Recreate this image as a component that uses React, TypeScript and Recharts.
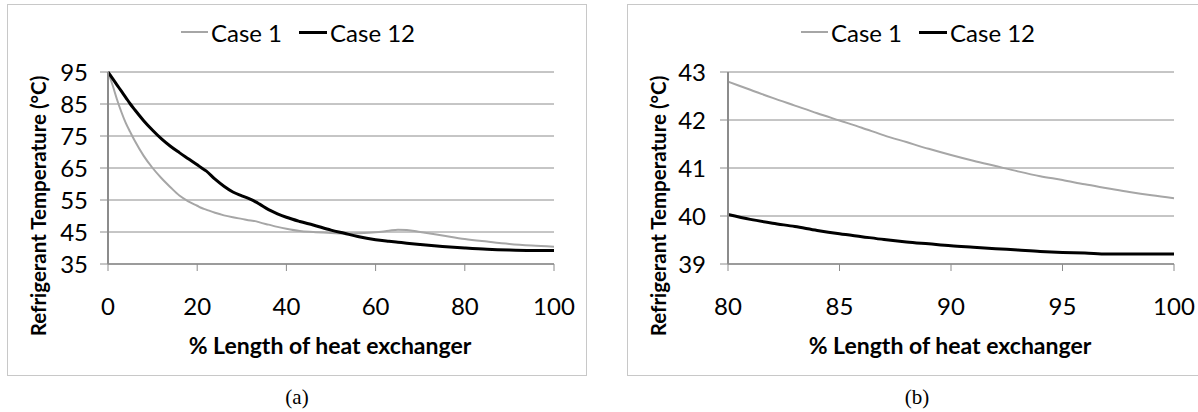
import { LineChart, Line, XAxis, YAxis, CartesianGrid, Label } from "recharts"

// (a) full length of the heat exchanger
const lengthA = [0, 1, 2, 3, 4, 5, 6, 8, 10, 12, 14, 16, 18, 20, 21, 22, 24, 26, 28, 30, 32, 33, 34, 36, 38, 40, 43, 46, 50, 53, 56, 60, 63, 65, 67, 70, 75, 80, 85, 90, 95, 100]
const case1A = [95, 91, 86.5, 82.5, 79, 76.2, 73.5, 68.8, 65, 61.8, 59, 56.4, 54.6, 53.2, 52.5, 52, 51, 50.2, 49.6, 49.1, 48.6, 48.4, 48, 47.3, 46.6, 46, 45.3, 45, 44.7, 44.5, 44.6, 44.9, 45.4, 45.7, 45.6, 45, 43.9, 42.8, 42, 41.27, 40.75, 40.37]
const case12A = [95, 93, 91, 89, 87, 85, 83.2, 79.8, 76.8, 74.1, 71.8, 69.8, 67.9, 66, 65, 64.1, 61.5, 59.3, 57.5, 56.3, 55.2, 54.5, 53.7, 52, 50.7, 49.6, 48.3, 47.2, 45.6, 44.6, 43.6, 42.6, 42.1, 41.8, 41.5, 41.1, 40.5, 40.03, 39.63, 39.38, 39.24, 39.21]

// (b) last 20 % of the heat exchanger
const lengthB = [80, 81, 82, 83, 84, 85, 86, 87, 88, 89, 90, 91, 92, 93, 94, 95, 96, 97, 98, 99, 100]
const case1B = [42.8, 42.63, 42.46, 42.3, 42.14, 41.99, 41.84, 41.68, 41.54, 41.4, 41.27, 41.15, 41.04, 40.93, 40.83, 40.75, 40.66, 40.58, 40.5, 40.43, 40.37]
const case12B = [40.03, 39.93, 39.85, 39.78, 39.7, 39.63, 39.57, 39.51, 39.46, 39.42, 39.38, 39.35, 39.32, 39.29, 39.26, 39.24, 39.23, 39.21, 39.21, 39.21, 39.21]

const xTicksA = [0, 20, 40, 60, 80, 100]
const yTicksA = [35, 45, 55, 65, 75, 85, 95]
const xTicksB = [80, 85, 90, 95, 100]
const yTicksB = [39, 40, 41, 42, 43]

const FONT = "Lato, Carlito, Calibri, sans-serif"
const GRID = "#8c8c8c"
const W = 580
const H = 372

interface PanelProps {
  x: number[]
  c1: number[]
  c12: number[]
  xTicks: number[]
  yTicks: number[]
  left: number
  caption: string
  yTickMargin: number
}

function Panel({ x, c1, c12, xTicks, yTicks, left, caption, yTickMargin }: PanelProps) {
  const data = x.map((v, i) => ({ x: v, case1: c1[i], case12: c12[i] }))
  return (
    <>
      <div
        style={{
          position: "absolute",
          left,
          top: 4,
          width: W,
          height: H,
          border: "1px solid #c8c8c8",
          boxSizing: "border-box",
          background: "#fff",
        }}
      >
        <div
          style={{
            position: "absolute",
            left: 0,
            top: 13,
            width: W,
            height: 28,
            display: "flex",
            justifyContent: "center",
            alignItems: "center",
            fontFamily: FONT,
            fontSize: 24,
            color: "#000",
          }}
        >
          <span style={{ display: "inline-block", width: 27, height: 2, background: "#a6a6a6", marginRight: 3 }} />
          <span>Case 1</span>
          <span style={{ display: "inline-block", width: 28, height: 3, background: "#000", marginLeft: 17, marginRight: 3 }} />
          <span>Case 12</span>
        </div>
        <LineChart
          width={W}
          height={H}
          data={data}
          margin={{ top: 68, right: 33, left: 0, bottom: 0 }}
          style={{ position: "absolute", left: -1, top: -1 }}
        >
          <CartesianGrid vertical={false} stroke={GRID} strokeWidth={1} />
          <XAxis
            dataKey="x"
            type="number"
            domain={[xTicks[0], xTicks[xTicks.length - 1]]}
            ticks={xTicks}
            interval={0}
            height={112}
            tickSize={7}
            tickMargin={27}
            axisLine={{ stroke: GRID, strokeWidth: 1.5 }}
            tickLine={{ stroke: GRID }}
            tick={{ fill: "#000", fontSize: 24, fontFamily: FONT }}
          >
            <Label
              content={() => (
                <text x={323} y={341} textAnchor="middle" dominantBaseline="central" fontFamily={FONT} fontWeight="bold" fontSize={23} fill="#000">
                  % Length of heat exchanger
                </text>
              )}
            />
          </XAxis>
          <YAxis
            type="number"
            domain={[yTicks[0], yTicks[yTicks.length - 1]]}
            ticks={yTicks}
            interval={0}
            width={101}
            tickSize={8}
            tickMargin={yTickMargin}
            axisLine={{ stroke: GRID, strokeWidth: 2 }}
            tickLine={{ stroke: GRID }}
            tick={{ fill: "#000", fontSize: 24, fontFamily: FONT }}
          >
            <Label
              content={() => (
                <text
                  x={31}
                  y={202}
                  transform="rotate(-90 31 202)"
                  textAnchor="middle"
                  dominantBaseline="central"
                  fontFamily={FONT}
                  fontWeight="bold"
                  fontSize={20.5}
                  fill="#000"
                >
                  Refrigerant Temperature (°C)
                </text>
              )}
            />
          </YAxis>
          <Line type="monotone" dataKey="case1" name="Case 1" stroke="#a6a6a6" strokeWidth={2} dot={false} isAnimationActive={false} />
          <Line type="monotone" dataKey="case12" name="Case 12" stroke="#000" strokeWidth={3} dot={false} isAnimationActive={false} />
        </LineChart>
      </div>
      <div
        style={{
          position: "absolute",
          left,
          top: 385,
          width: W,
          textAlign: "center",
          fontFamily: "'Liberation Serif', 'Times New Roman', serif",
          fontSize: 21,
          lineHeight: "24px",
          color: "#000",
        }}
      >
        {caption}
      </div>
    </>
  )
}

export default function App() {
  return (
    <div style={{ position: "absolute", left: 0, top: 0, width: 1198, height: 412, background: "#fff", overflow: "hidden" }}>
      <Panel x={lengthA} c1={case1A} c12={case12A} xTicks={xTicksA} yTicks={yTicksA} left={7} caption="(a)" yTickMargin={12} />
      <Panel x={lengthB} c1={case1B} c12={case12B} xTicks={xTicksB} yTicks={yTicksB} left={627} caption="(b)" yTickMargin={14} />
    </div>
  )
}
